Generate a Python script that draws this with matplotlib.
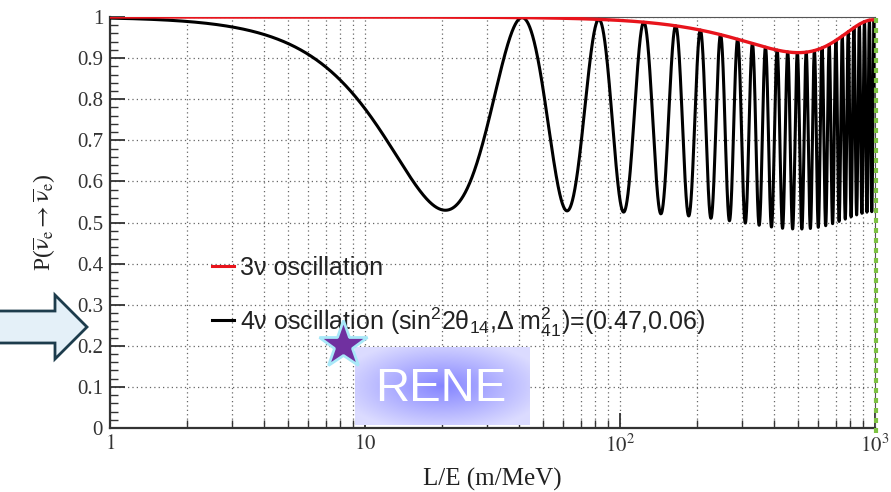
import numpy as np
import matplotlib
matplotlib.use("Agg")
import matplotlib.pyplot as plt
from matplotlib.patches import Polygon
from matplotlib.ticker import FixedLocator, NullFormatter, FixedFormatter

sin2_2theta14 = 0.47      # legend value
dm2_41 = 0.06             # eV^2, legend value
sin2_2theta13 = 0.085     # read from red dip (~0.915)
dm2_31 = 2.5e-3           # red dip position (~500 m/MeV)
sin2_2theta12 = 0.85
dm2_21 = 7.5e-5
x_range = [1, 1000]
xtick_vals = [1, 10, 100, 1000]
xtick_labels = [r"$\mathrm{1}$", r"$\mathrm{10}$", r"$\mathrm{10^{2}}$", r"$\mathrm{10^{3}}$"]
ytick_vals = [0, 0.1, 0.2, 0.3, 0.4, 0.5, 0.6, 0.7, 0.8, 0.9, 1.0]
ytick_labels = ["0", "0.1", "0.2", "0.3", "0.4", "0.5", "0.6", "0.7", "0.8", "0.9", "1"]
legend_labels = ["3ν oscillation",
                 "4ν oscillation (sin$^{2}$2θ$_{14}$,Δ m$^{2}_{41}$)=(0.47,0.06)"]

LE = np.logspace(np.log10(x_range[0]), np.log10(x_range[1]), 40000)
p3 = (1 - sin2_2theta13 * np.sin(1.267 * dm2_31 * LE) ** 2
        - 0.915 * sin2_2theta12 * np.sin(1.267 * dm2_21 * LE) ** 2)
p4 = p3 * (1 - sin2_2theta14 * np.sin(1.267 * dm2_41 * LE) ** 2)

plt.rcParams['mathtext.fontset'] = 'custom'
plt.rcParams['mathtext.rm'] = 'Liberation Sans'
plt.rcParams['mathtext.it'] = 'Liberation Sans:italic'
plt.rcParams['mathtext.bf'] = 'Liberation Sans:bold'

W, H = 891, 492
fig = plt.figure(figsize=(W / 100, H / 100), dpi=100)
ax = fig.add_axes([110 / W, 1 - 428 / H, (875 - 110) / W, (428 - 17) / H])

ax.plot(LE, p4, color='black', lw=2.2, zorder=3)
ax.plot(LE, p3, color='#e8141c', lw=2.4, zorder=4)

ax.set_xscale('log')
ax.set_xlim(x_range)
ax.set_ylim(0, 1)

ax.xaxis.set_major_locator(FixedLocator(xtick_vals))
ax.xaxis.set_major_formatter(FixedFormatter(xtick_labels))
minors = [m * d for d in (1, 10, 100) for m in range(2, 10)]
ax.xaxis.set_minor_locator(FixedLocator(minors))
ax.xaxis.set_minor_formatter(NullFormatter())
ax.yaxis.set_major_locator(FixedLocator(ytick_vals))
ax.yaxis.set_major_formatter(FixedFormatter(ytick_labels))
ax.yaxis.set_minor_locator(FixedLocator(np.arange(0, 1.0001, 0.02)))

serif = 'Liberation Serif'
for lab in ax.get_yticklabels() + ax.get_xticklabels():
    lab.set_fontfamily(serif)
    lab.set_fontsize(15)
    lab.set_color('#333333')
    lab.set_math_fontfamily('stix')

ax.tick_params(which='major', direction='in', length=11, width=1.3, color='#333333', pad=5)
ax.tick_params(which='minor', direction='in', length=6, width=1.0, color='#333333')
ax.tick_params(top=False, right=False, which='both')

ax.grid(which='major', axis='both', ls=(0, (1, 2.5)), color='#666666', lw=0.9)
ax.grid(which='minor', axis='x', ls=(0, (1, 2.5)), color='#666666', lw=0.9)
for s in ('left', 'bottom'):
    ax.spines[s].set_linewidth(1.6)
    ax.spines[s].set_color('#333333')
for s in ('top', 'right'):
    ax.spines[s].set_linewidth(0.8)
    ax.spines[s].set_color('#555555')

ax.set_xlabel("L/E (m/MeV)", fontfamily=serif, fontsize=18, color='#222222', labelpad=8)
yl = ax.set_ylabel(r"P($\overline{\mathrm{\nu}}_{\mathrm{e}}$$\rightarrow$$\overline{\mathrm{\nu}}_{\mathrm{e}}$)",
                   fontfamily=serif, fontsize=17, color='#222222', labelpad=14)
yl.set_math_fontfamily('stix')

# ---- overlay in pixel coordinates ----
ov = fig.add_axes([0, 0, 1, 1], zorder=10)
ov.set_xlim(0, W)
ov.set_ylim(H, 0)
ov.axis('off')
ov.patch.set_alpha(0)

# legend
ov.plot([212, 234], [266, 266], color='#e8141c', lw=2.2)
ov.text(240, 268, legend_labels[0], fontfamily='Liberation Sans', fontsize=18,
        color='#222222', va='center', ha='left')
ov.plot([212, 234], [320, 320], color='black', lw=2.2)
ov.text(240, 322, legend_labels[1], fontfamily='Liberation Sans', fontsize=18,
        color='#222222', va='center', ha='left')

# arrow
arrow_pts = [(-5, 311), (55, 311), (55, 295), (87, 327), (55, 359), (55, 343), (-5, 343)]
ov.add_patch(Polygon(arrow_pts, closed=True, facecolor='#e4f0f8', edgecolor='#1d3c4c', lw=2))

# RENE box with radial gradient
gx0, gx1, gy0, gy1 = 355, 530, 347, 425
nx, ny = 200, 100
xx, yy = np.meshgrid(np.linspace(-1, 1, nx), np.linspace(-1, 1, ny))
r = np.clip(np.sqrt(xx ** 2 + yy ** 2) / 1.2, 0, 1)
c0 = np.array([0.52, 0.52, 1.0])
c1 = np.array([0.86, 0.86, 1.0])
img = c0[None, None, :] * (1 - r[..., None]) + c1[None, None, :] * r[..., None]
ov.imshow(img, extent=[gx0, gx1, gy1, gy0], aspect='auto', zorder=5)
ov.set_xlim(0, W)
ov.set_ylim(H, 0)
ov.text(441, 389, "RENE", color='white', fontsize=34, fontfamily='Liberation Sans',
        ha='center', va='center', zorder=6)

# star
ov.plot([343], [345], marker='*', markersize=36, color='#7030a0',
        markeredgecolor='#a8e8f8', markeredgewidth=2, zorder=7)

# green dotted line
ov.plot([876, 876], [18, 434], color='#7dc242', lw=3, ls=(0, (1.2, 1.2)), zorder=8)

fig.savefig("out.png", dpi=100)
